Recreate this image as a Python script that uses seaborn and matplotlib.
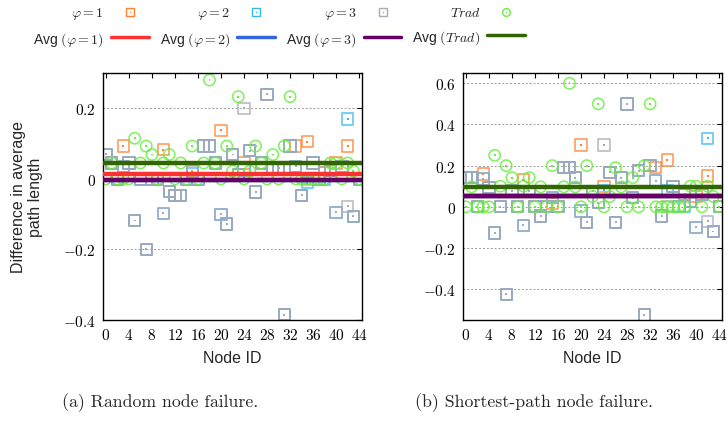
import numpy as np
import seaborn as sns
import matplotlib
matplotlib.use("Agg")
import matplotlib.pyplot as plt
from matplotlib.lines import Line2D
from matplotlib.legend_handler import HandlerTuple
from matplotlib.ticker import FuncFormatter

# node ids 0..44
NODES = list(range(45))

# (a) random node failure
RAND_PHI1 = [0.07, 0.045, 0, 0.093, 0.045, -0.118, 0, -0.2, 0, 0,
             0.083, -0.035, -0.047, -0.047, 0, 0.022, 0, 0.093, 0.093, 0.045,
             0.138, -0.128, 0.069, 0.012, 0.045, 0.08, -0.037, 0.045, 0.24, 0.026,
             0.031, -0.385, 0.093, 0.093, -0.047, 0.105, 0.045, 0, 0.017, 0.024,
             0.045, 0.036, 0.093, -0.106, 0]
RAND_PHI2 = [0.07, 0.045, 0, 0.035, 0.045, -0.118, 0, -0.2, 0, 0,
             -0.098, -0.035, -0.047, -0.047, 0, 0.015, 0, 0.093, 0.093, 0.045,
             -0.1, -0.128, 0.069, 0.012, 0.025, 0.08, -0.037, 0.045, 0.24, 0.026,
             0.031, -0.385, 0.093, 0.036, -0.047, -0.011, 0.045, 0, 0, 0.024,
             -0.095, 0.036, 0.17, -0.106, 0]
RAND_PHI3 = [0.07, 0.045, 0, 0.035, 0.045, -0.118, 0, -0.2, 0, 0,
             -0.098, -0.035, -0.047, -0.047, 0, 0.02, 0, 0.093, 0.093, 0.045,
             -0.1, -0.128, 0.069, 0.012, 0.2, 0.08, -0.037, 0.045, 0.24, 0.026,
             0.031, -0.385, 0.093, 0.036, -0.047, 0, 0.045, 0, 0.017, 0.024,
             -0.095, 0.036, -0.078, -0.106, 0]
RAND_TRAD = [0, 0.045, 0, 0, 0, 0.115, 0.045, 0.093, 0.069, 0,
             0.045, 0.069, 0, 0.045, 0, 0.093, 0, 0.045, 0.28, 0.045,
             0, 0.093, 0.022, 0.233, 0, 0.022, 0.093, 0.045, 0, 0.069,
             0, 0.093, 0.233, 0, 0, 0, 0, 0, 0, 0.045,
             0.045, 0, 0.045, 0.022, 0]
RAND_AVG = [0.014, -0.002, -0.003, 0.045]

# (b) shortest-path node failure
SP_PHI1 = [0.142, 0.142, 0, 0.16, 0.094, -0.127, 0, -0.425, 0.078, 0,
           0.13, 0.076, 0, -0.045, 0, 0.015, 0, 0.19, 0.19, 0.142,
           0.3, -0.076, 0.075, 0.02, 0.1, 0.167, -0.075, 0.142, 0.5, 0.045,
           0.175, -0.525, 0.2, 0.19, -0.045, 0.227, 0.1, 0, 0.06, 0.025,
           0.05, 0.06, 0.15, -0.12, 0]
SP_PHI2 = [0.142, 0.142, 0, 0.135, 0.094, -0.127, 0, -0.425, 0.078, 0,
           -0.09, 0.076, 0, -0.045, 0, 0.045, 0, 0.19, 0.19, 0.142,
           -0.02, -0.076, 0.075, 0.02, 0.08, 0.167, -0.075, 0.142, 0.5, 0.045,
           0.175, -0.525, 0.2, 0.127, -0.045, 0.08, 0.1, 0, 0, 0.025,
           -0.1, 0.06, 0.333, -0.12, 0]
SP_PHI3 = [0.142, 0.142, 0, 0.135, 0.094, -0.127, 0, -0.425, 0.078, 0,
           -0.09, 0.076, 0, -0.045, 0, 0.045, 0, 0.19, 0.19, 0.142,
           -0.02, -0.076, 0.075, 0.02, 0.3, 0.167, -0.075, 0.142, 0.5, 0.045,
           0.175, -0.525, 0.2, 0.127, -0.045, 0, 0.1, 0, 0.06, 0.025,
           -0.1, 0.06, -0.071, -0.12, 0]
SP_TRAD = [0, 0.097, 0, 0, 0, 0.25, 0.1, 0.2, 0.142, 0,
           0.1, 0.142, 0, 0.097, 0, 0.2, 0, 0.097, 0.6, 0.097,
           0, 0.2, 0.05, 0.5, 0, 0.05, 0.19, 0.097, 0, 0.142,
           0, 0.2, 0.5, 0, 0, 0, 0, 0, 0, 0.1,
           0.1, 0, 0.1, 0.05, 0]
SP_AVG = [0.053, 0.053, 0.053, 0.097]

PT_COLORS = ["#ff8030", "#35b8f5", "#a8a8bc", "#66f03c"]
AVG_COLORS = ["#ff3030", "#3366dd", "#660066", "#336600"]
PT_LABELS = [r"$\varphi = 1$", r"$\varphi = 2$", r"$\varphi = 3$", r"$Trad$"]
AVG_LABELS = [r"Avg $(\varphi = 1)$", r"Avg $(\varphi = 2)$",
              r"Avg $(\varphi = 3)$", r"Avg $(Trad)$"]
MARKERS = ["s", "s", "s", "o"]

sns.set_theme(style="white")
plt.rcParams["font.family"] = ["Liberation Sans", "DejaVu Sans"]
plt.rcParams["mathtext.fontset"] = "cm"

fig = plt.figure(figsize=(7.28, 4.27), dpi=100)
ax_a = fig.add_axes([0.1415, 0.2482, 0.3558, 0.5785])
ax_b = fig.add_axes([0.636, 0.2482, 0.3558, 0.5785])


def draw_panel(ax, series, avgs, ylim, yticks):
    for vals, col, mk in zip(series, PT_COLORS, MARKERS):
        sns.scatterplot(x=NODES, y=vals, marker=mk, s=66, color=col,
                        facecolor="none", edgecolor=col, linewidth=1.1,
                        alpha=0.85, ax=ax, zorder=2)
        # little dot in the middle of each point
        sns.scatterplot(x=NODES, y=vals, marker="s", s=2, color=col,
                        edgecolor="none", linewidth=0, ax=ax, zorder=2)
    for v, col in zip(avgs, AVG_COLORS):
        ax.axhline(v, color=col, lw=3.2, zorder=3)
    ax.set_xlim(-0.5, 44.5)
    ax.set_ylim(*ylim)
    ax.set_xticks(range(0, 45, 4))
    ax.set_yticks(yticks)
    ax.yaxis.set_major_formatter(FuncFormatter(lambda v, p: f"${v:g}$"))
    ax.xaxis.set_major_formatter(FuncFormatter(lambda v, p: f"${v:g}$"))
    ax.yaxis.grid(True, ls=(0, (2, 2)), color="#999999", lw=0.7, zorder=0)
    ax.xaxis.grid(False)
    ax.tick_params(direction="in", length=3.5, width=0.8, top=True,
                   right=True, labelsize=11, pad=5, colors="black")
    for sp in ax.spines.values():
        sp.set_color("black")
        sp.set_linewidth(1.0)
    ax.set_xlabel("Node ID", fontsize=11.5, labelpad=6)
    ax.set_ylabel("")


draw_panel(ax_a, [RAND_PHI1, RAND_PHI2, RAND_PHI3, RAND_TRAD], RAND_AVG,
           (-0.4, 0.3), [-0.4, -0.2, 0, 0.2])
draw_panel(ax_b, [SP_PHI1, SP_PHI2, SP_PHI3, SP_TRAD], SP_AVG,
           (-0.55, 0.65), [-0.4, -0.2, 0, 0.2, 0.4, 0.6])

fig.text(0.037, 0.5375, "Difference in average\npath length", rotation=90,
         ha="center", va="center", fontsize=11.5, linespacing=1.1)

fig.text(0.22, 0.058, "(a) Random node failure.", family="cmr10",
         ha="center", va="center", fontsize=12.8)
fig.text(0.57, 0.058, "(b) Shortest-path node failure.", family="cmr10",
         ha="left", va="center", fontsize=12.8)

# legend: label first, then sample (two rows, filled column by column)
handles, labels = [], []
for i in range(4):
    sq = Line2D([], [], ls="none", marker=MARKERS[i], ms=5.5, mfc="none",
                mec=PT_COLORS[i], mew=1.0)
    dot = Line2D([], [], ls="none", marker="s", ms=1, mfc=PT_COLORS[i],
                 mec="none")
    handles.append((sq, dot))
    labels.append(PT_LABELS[i])
    handles.append(Line2D([], [], color=AVG_COLORS[i], lw=2.5))
    labels.append(AVG_LABELS[i])

fig.legend(handles, labels, ncol=4, markerfirst=False, frameon=False,
           loc="upper left", bbox_to_anchor=(0.038, 0.998),
           borderaxespad=0.2, borderpad=0.2, fontsize=10,
           handlelength=2.7, handletextpad=0.5, columnspacing=0.8,
           labelspacing=0.6,
           handler_map={tuple: HandlerTuple(ndivide=1)})

fig.savefig("out.png", dpi=100)
